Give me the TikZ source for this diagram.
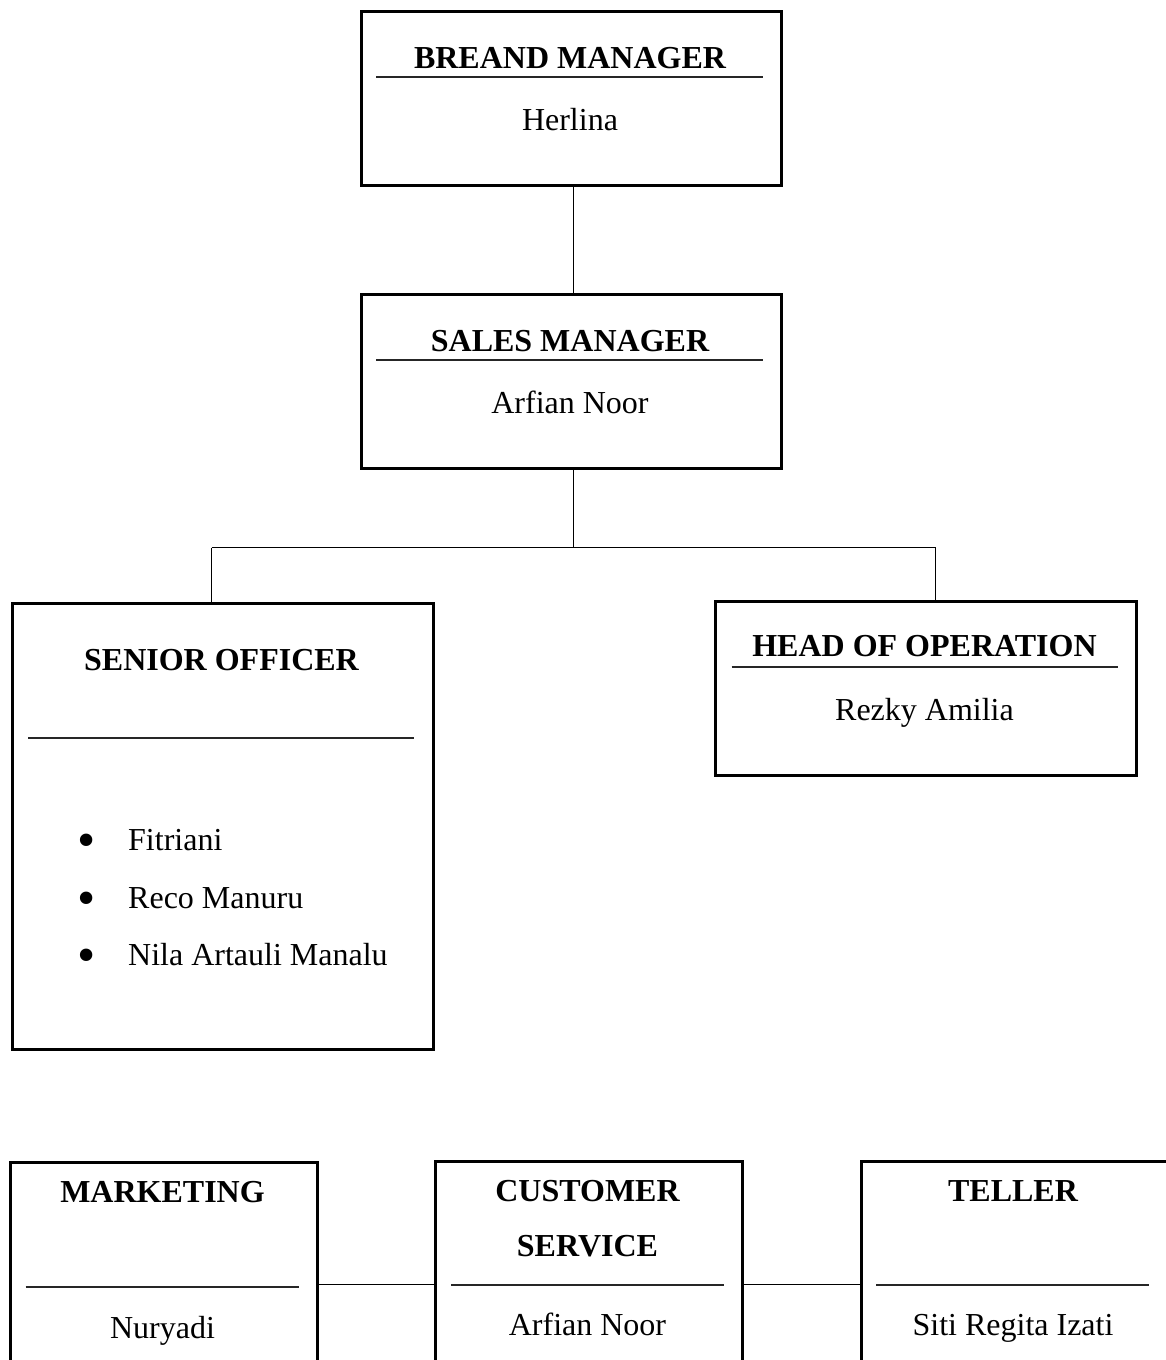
\documentclass[tikz,border=0pt]{standalone}
\usepackage{fontspec}
\setmainfont{Liberation Serif}
\begin{document}
\begin{tikzpicture}[x=1pt,y=-1pt,
  box/.style={draw, line width=2.6pt, rectangle, inner sep=0pt, anchor=north west},
  conn/.style={line width=1.3pt},
  rule/.style={line width=2pt, black!85},
  txt/.style={font=\fontsize{32}{55}\selectfont, anchor=base, inner sep=0pt},
  ttl/.style={txt, font=\fontsize{32}{55}\selectfont\bfseries},
  item/.style={txt, anchor=base west},
  bul/.style={txt, font=\fontsize{52}{55}\selectfont}
]
\useasboundingbox (0,0) rectangle (1166,1360);
\fill[white] (0,0) rectangle (1166,1360);
\clip (0,0) rectangle (1166,1360);

% Breand manager
\node[box, minimum width=420pt, minimum height=174pt] (bm) at (360,10) {};
\node[ttl] (bmt) at (570,68) {BREAND MANAGER};
\draw[rule] (376,77.3) -- (763,77.3);
\node[txt] (bmn) at (570,130) {Herlina};

% Sales manager
\node[box, minimum width=420pt, minimum height=174pt] (sm) at (360,293) {};
\node[ttl] (smt) at (570,351) {SALES MANAGER};
\draw[rule] (376,360.3) -- (763,360.3);
\node[txt] (smn) at (570,413) {Arfian Noor};

% Senior officer
\node[box, minimum width=421pt, minimum height=446pt] (so) at (11,602) {};
\node[ttl] (sot) at (221.5,670) {SENIOR OFFICER};
\draw[rule] (28,737.5) -- (414,737.5);
\node[bul] (b1) at (87,857) {•};
\node[bul] (b2) at (87,915) {•};
\node[bul] (b3) at (87,972) {•};
\node[item] (s1) at (128,850) {Fitriani};
\node[item] (s2) at (128,908) {Reco Manuru};
\node[item] (s3) at (128,965) {Nila Artauli Manalu};

% Head of operation
\node[box, minimum width=421pt, minimum height=174pt] (ho) at (714,600) {};
\node[ttl] (hot) at (924.5,656.7) {HEAD OF OPERATION};
\draw[rule] (731.7,667.3) -- (1118,667.3);
\node[txt] (hon) at (924.5,720) {Rezky Amilia};

% Bottom row
\node[box, minimum width=307pt, minimum height=300pt] (mk) at (9,1161) {};
\node[ttl] (mkt) at (162.5,1202.7) {MARKETING};
\draw[rule] (25.7,1286.5) -- (299,1286.5);
\node[txt] (mkn) at (162.5,1338) {Nuryadi};

\node[box, minimum width=307pt, minimum height=300pt] (cs) at (434,1160) {};
\node[ttl] (cst1) at (587.5,1201.7) {CUSTOMER};
\node[ttl] (cst2) at (587.5,1256.7) {SERVICE};
\draw[rule] (451,1284.7) -- (724,1284.7);
\node[txt] (csn) at (587.5,1335) {Arfian Noor};

\node[box, minimum width=310pt, minimum height=300pt] (tl) at (860,1160) {};
\node[ttl] (tlt) at (1013,1201.7) {TELLER};
\draw[rule] (876,1285) -- (1149,1285);
\node[txt] (tln) at (1013,1335) {Siti Regita Izati};

% Connectors
\draw[conn] ([xshift=2pt]bm.south) -- ([xshift=2pt]sm.north);
\coordinate (jl) at (211.6,547.7);
\coordinate (jr) at (935.6,547.7);
\draw[conn] ([xshift=2pt]sm.south) -- ([xshift=2pt]sm.south |- jl);
\draw[conn] (jl) -- (jr);
\draw[conn] (jl) -- (jl |- so.north);
\draw[conn] (jr) -- (jr |- ho.north);
\coordinate (hl) at (0,1284.3);
\draw[conn] (mk.east |- hl) -- (cs.west |- hl);
\draw[conn] (cs.east |- hl) -- (tl.west |- hl);
\end{tikzpicture}
\end{document}
